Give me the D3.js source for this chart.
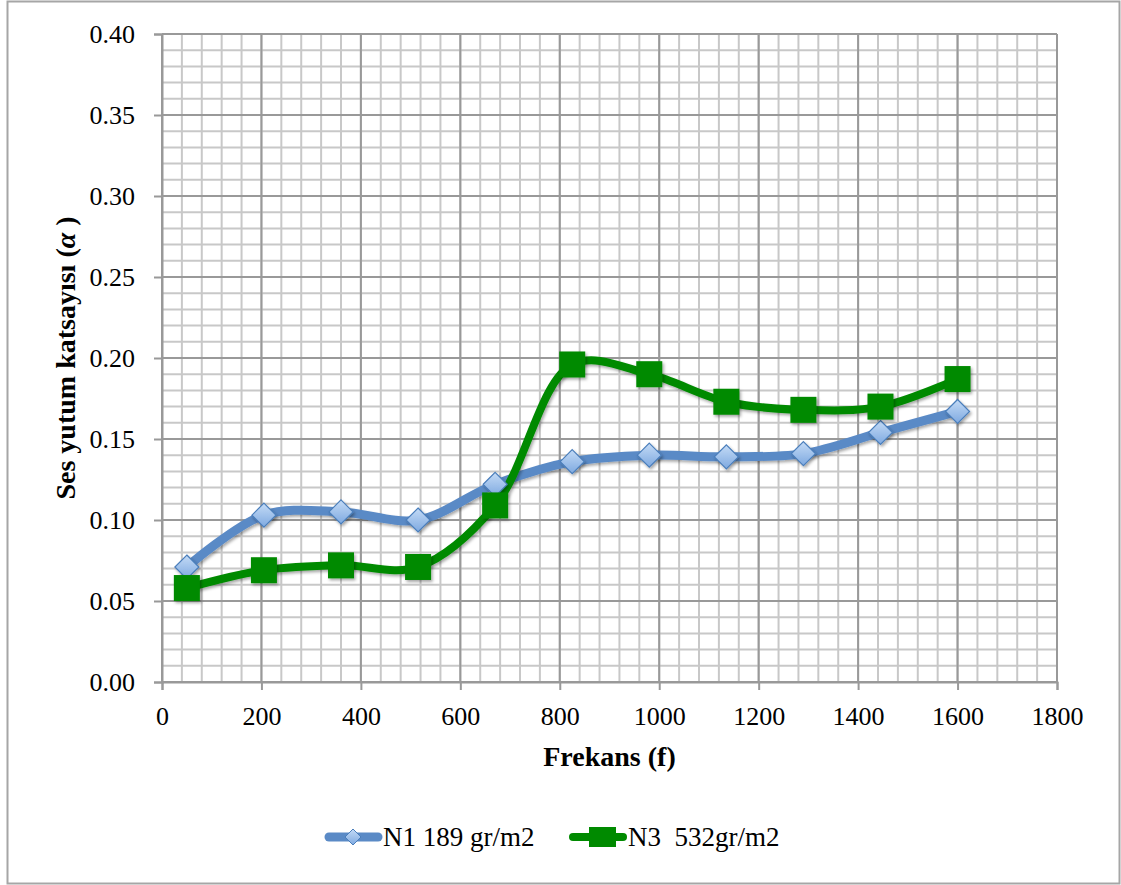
<!DOCTYPE html>
<html><head><meta charset="utf-8">
<script src="https://cdn.jsdelivr.net/npm/d3@7"></script>
<style>body{margin:0;background:#fff}svg{display:block}</style>
</head><body>
<script>
const frequencies = [50, 205, 360, 515, 670, 825, 980, 1135, 1290, 1445, 1600];
const seriesN1 = [0.071, 0.103, 0.105, 0.100, 0.122, 0.136, 0.140, 0.139, 0.141, 0.154, 0.167];
const seriesN3 = [0.058, 0.069, 0.072, 0.071, 0.109, 0.196, 0.190, 0.173, 0.168, 0.170, 0.187];
const seriesNames = ["N1 189 gr/m2", "N3  532gr/m2"];
const xTicks = [0, 200, 400, 600, 800, 1000, 1200, 1400, 1600, 1800];
const yTicks = [0, 0.05, 0.10, 0.15, 0.20, 0.25, 0.30, 0.35, 0.40];

const FONT = "'Liberation Serif', 'Times New Roman', 'DejaVu Serif', serif";
const W = 1121, H = 885;
const L = 162, R = 1057, T = 34, B = 682;
const svg = d3.select("body").append("svg").attr("width", W).attr("height", H);
const defs = svg.append("defs");
const grad = defs.append("linearGradient").attr("id","dg").attr("x1",0).attr("y1",0).attr("x2",0).attr("y2",1);
grad.append("stop").attr("offset","0%").attr("stop-color","#c4dbf6");
grad.append("stop").attr("offset","100%").attr("stop-color","#7ea9e0");
const sh = defs.append("filter").attr("id","sh").attr("x","-30%").attr("y","-30%").attr("width","170%").attr("height","170%");
sh.append("feDropShadow").attr("dx",1.5).attr("dy",2).attr("stdDeviation",1.5).attr("flood-color","#000").attr("flood-opacity",0.35);

svg.append("rect").attr("x",7.5).attr("y",1.5).attr("width",1112).attr("height",882)
  .attr("fill","#fff").attr("stroke","#a6a6a6").attr("stroke-width",2);

const x = d3.scaleLinear().domain([0,1800]).range([L,R]);
const y = d3.scaleLinear().domain([0,0.40]).range([B,T]);

const g = svg.append("g");
const xMinor = d3.range(0, 1801, 40);
const yMinor = d3.range(0, 41, 1).map(v => v/100);
g.selectAll(".xm").data(xMinor).join("line")
  .attr("x1",d=>x(d)).attr("x2",d=>x(d)).attr("y1",T).attr("y2",B)
  .attr("stroke","#c8c8c8").attr("stroke-width",2);
g.selectAll(".ym").data(yMinor).join("line")
  .attr("x1",L).attr("x2",R).attr("y1",d=>y(d)).attr("y2",d=>y(d))
  .attr("stroke","#c8c8c8").attr("stroke-width",2);
g.selectAll(".xM").data(xTicks).join("line")
  .attr("x1",d=>x(d)).attr("x2",d=>x(d)).attr("y1",T).attr("y2",B)
  .attr("stroke","#999").attr("stroke-width",2);
g.selectAll(".yM").data(yTicks).join("line")
  .attr("x1",L).attr("x2",R).attr("y1",d=>y(d)).attr("y2",d=>y(d))
  .attr("stroke","#999").attr("stroke-width",2);

const xAxis = svg.append("g").attr("transform",`translate(0,${B})`)
  .call(d3.axisBottom(x).tickValues(xTicks).tickSize(8).tickPadding(17).tickFormat(d3.format("d")));
const yAxis = svg.append("g").attr("transform",`translate(${L},0)`)
  .call(d3.axisLeft(y).tickValues(yTicks).tickSize(8).tickPadding(19).tickFormat(d3.format(".2f")));
[xAxis, yAxis].forEach(a => {
  a.attr("font-family", FONT).attr("font-size", 26);
  a.select(".domain").attr("stroke","#999").attr("stroke-width",2);
  a.selectAll(".tick line").attr("stroke","#999").attr("stroke-width",2);
  a.selectAll("text").style("font-family",FONT).style("font-size","26px").attr("fill","#000");
});

svg.append("text").attr("x",(L+R)/2).attr("y",766).attr("text-anchor","middle")
  .style("font-family",FONT).style("font-weight","bold").style("font-size","28px")
  .text("Frekans (f)");
const yl = svg.append("text").attr("transform",`translate(75,${(T+B)/2}) rotate(-90)`).attr("text-anchor","middle")
  .style("font-family",FONT).style("font-weight","bold").style("font-size","28px");
yl.append("tspan").text("Ses yutum katsayısı (");
yl.append("tspan").attr("font-style","italic").text("α");
yl.append("tspan").text(" )");

const line = d3.line().x(d=>x(d[0])).y(d=>y(d[1])).curve(d3.curveCatmullRom.alpha(0.5));
const d1 = frequencies.map((f,i)=>[f, seriesN1[i]]);
const d3s = frequencies.map((f,i)=>[f, seriesN3[i]]);

svg.append("path").datum(d1).attr("d",line).attr("fill","none")
  .attr("stroke","#5a8ac6").attr("stroke-width",9).attr("stroke-linecap","round").attr("filter","url(#sh)");
svg.append("path").datum(d3s).attr("d",line).attr("fill","none")
  .attr("stroke","#008a00").attr("stroke-width",8).attr("stroke-linecap","round").attr("filter","url(#sh)");

const ds = 12;
const diamond = `M0,${-ds}L${ds},0L0,${ds}L${-ds},0Z`;
svg.selectAll(".dm").data(d1).join("path")
  .attr("transform",d=>`translate(${x(d[0])},${y(d[1])})`).attr("d",diamond)
  .attr("fill","url(#dg)").attr("stroke","#4a7ebb").attr("stroke-width",1.2).attr("filter","url(#sh)");
const sq = 13;
svg.selectAll(".sq").data(d3s).join("rect")
  .attr("x",d=>x(d[0])-sq).attr("y",d=>y(d[1])-sq).attr("width",2*sq).attr("height",2*sq)
  .attr("fill","#008a00").attr("filter","url(#sh)");

const ly = 837;
const lg = svg.append("g");
lg.append("line").attr("x1",329).attr("x2",378).attr("y1",ly).attr("y2",ly)
  .attr("stroke","#5a8ac6").attr("stroke-width",9).attr("stroke-linecap","round");
lg.append("path").attr("transform",`translate(353,${ly})`).attr("d",`M0,-8L8,0L0,8L-8,0Z`)
  .attr("fill","url(#dg)").attr("stroke","#4a7ebb").attr("stroke-width",1);
lg.append("text").attr("x",383).attr("y",ly+9).style("font-family",FONT).style("font-size","27px").text(seriesNames[0]);
lg.append("line").attr("x1",573).attr("x2",623).attr("y1",ly).attr("y2",ly)
  .attr("stroke","#008a00").attr("stroke-width",8).attr("stroke-linecap","round");
lg.append("rect").attr("x",589).attr("y",ly-10).attr("width",27).attr("height",20).attr("fill","#008a00");
lg.append("text").attr("x",628).attr("y",ly+9).style("font-family",FONT).style("font-size","27px")
  .style("white-space","pre").text(seriesNames[1]);
</script>
</body></html>
